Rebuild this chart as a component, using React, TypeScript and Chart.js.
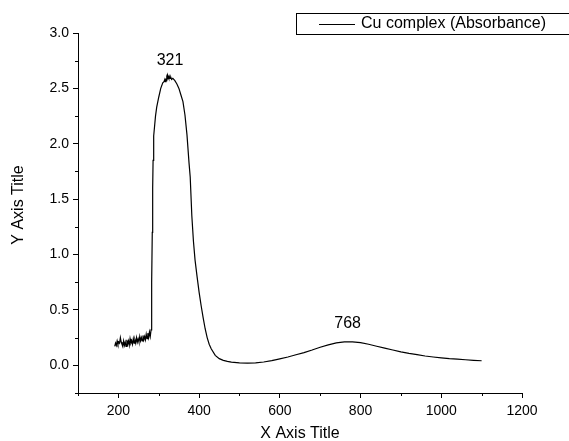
import React, { useEffect, useRef } from "react";
import { Chart, registerables } from "chart.js";

Chart.register(...registerables);

const wavelengths = [
  191, 193, 195, 197, 199, 201, 203, 205, 207, 209, 211, 213, 215, 217, 219, 221, 223, 225, 227, 229,
  231, 233, 235, 237, 239, 241, 243, 245, 247, 249, 251, 253, 255, 257, 259, 261, 263, 265, 267, 269,
  271, 273, 275, 277, 279, 281, 282, 283, 284, 285, 286, 287, 288, 290, 292, 295, 300, 305,
  310, 313, 315, 316, 318, 319, 320, 321, 322, 323, 325, 326, 328, 330, 332, 335, 340, 345, 350, 355, 360, 365, 370, 375, 378,
  382, 386, 390, 395, 400, 405, 410, 415, 420, 425, 430, 440, 450, 460, 470, 480, 500, 520, 540, 560,
  580, 600, 620, 640, 660, 680, 700, 720, 740, 760, 780, 800, 820, 840, 860, 880, 900, 920, 940, 960,
  980, 1000, 1020, 1040, 1060, 1080, 1100,
];

const absorbance = [
  0.17, 0.2, 0.18, 0.22, 0.19, 0.21, 0.2, 0.25, 0.21, 0.19, 0.17, 0.22, 0.18, 0.21, 0.17, 0.23, 0.19, 0.22, 0.18, 0.24,
  0.2, 0.22, 0.19, 0.24, 0.2, 0.23, 0.2, 0.25, 0.21, 0.24, 0.21, 0.26, 0.22, 0.25, 0.22, 0.27, 0.23, 0.26, 0.23, 0.28,
  0.24, 0.29, 0.25, 0.3, 0.26, 0.32, 0.32, 0.75, 1.2, 1.6, 1.85, 1.98, 2.07, 2.17, 2.25, 2.33, 2.42, 2.5,
  2.55, 2.56, 2.58, 2.56, 2.59, 2.57, 2.61, 2.62, 2.58, 2.61, 2.59, 2.61, 2.59, 2.6, 2.58, 2.59, 2.57, 2.54, 2.5, 2.44, 2.38, 2.26, 2.08, 1.83, 1.7,
  1.35, 1.12, 0.95, 0.8, 0.66, 0.54, 0.43, 0.33, 0.25, 0.19, 0.15, 0.09, 0.06, 0.045, 0.035, 0.028, 0.022, 0.02, 0.022, 0.03,
  0.042, 0.058, 0.075, 0.095, 0.115, 0.138, 0.163, 0.185, 0.203, 0.211, 0.212, 0.204, 0.19, 0.172, 0.155, 0.138, 0.122, 0.108, 0.096, 0.084,
  0.075, 0.067, 0.06, 0.055, 0.05, 0.045, 0.041,
];

const xMajorTicks = [200, 400, 600, 800, 1000, 1200];
const xMinorTicks = [100, 300, 500, 700, 900, 1100];
const yMajorTicks = [0, 0.5, 1.0, 1.5, 2.0, 2.5, 3.0];
const yMinorTicks = [-0.25, 0.25, 0.75, 1.25, 1.75, 2.25, 2.75];

const seriesLabel = "Cu complex (Absorbance)";
const xTitle = "X Axis Title";
const yTitle = "Y Axis Title";
const peakLabels = [
  { text: "321", x: 328, y: 2.75 },
  { text: "768", x: 768, y: 0.373 },
];

const FONT = "'Liberation Sans', Arial, sans-serif";

const decorPlugin = {
  id: "decor",
  afterDraw(chart: any) {
    const ctx = chart.ctx;
    const xs = chart.scales.x;
    const ys = chart.scales.y;
    const area = chart.chartArea;
    ctx.save();
    ctx.strokeStyle = "#000";
    ctx.lineWidth = 1;
    // minor ticks
    ctx.beginPath();
    xMinorTicks.forEach((v) => {
      const px = Math.round(xs.getPixelForValue(v)) + 0.5;
      ctx.moveTo(px, area.bottom);
      ctx.lineTo(px, area.bottom + 3);
    });
    yMinorTicks.forEach((v) => {
      const py = Math.round(ys.getPixelForValue(v)) + 0.5;
      ctx.moveTo(area.left, py);
      ctx.lineTo(area.left - 3, py);
    });
    ctx.stroke();

    ctx.fillStyle = "#000";
    ctx.font = `16px ${FONT}`;
    ctx.textAlign = "center";
    ctx.textBaseline = "middle";
    // peak labels
    peakLabels.forEach((p) => {
      ctx.fillText(p.text, xs.getPixelForValue(p.x), ys.getPixelForValue(p.y));
    });
    // axis titles
    ctx.fillText(xTitle, (area.left + area.right) / 2, 434);
    ctx.save();
    ctx.translate(19, 205);
    ctx.rotate(-Math.PI / 2);
    ctx.fillText(yTitle, 0, 0);
    ctx.restore();

    // legend box
    ctx.strokeRect(296.5, 13.5, 320, 21);
    ctx.beginPath();
    ctx.moveTo(319, 24.5);
    ctx.lineTo(355, 24.5);
    ctx.stroke();
    ctx.textAlign = "left";
    ctx.fillText(seriesLabel, 361, 24);
    ctx.restore();
  },
};

export default function App() {
  const ref = useRef<HTMLCanvasElement>(null);
  useEffect(() => {
    if (!ref.current) return;
    const data = wavelengths.map((x, i) => ({ x, y: absorbance[i] }));
    const chart = new Chart(ref.current, {
      type: "line",
      data: {
        datasets: [
          {
            label: seriesLabel,
            data,
            borderColor: "#000",
            borderWidth: 1.2,
            pointRadius: 0,
            tension: 0,
            fill: false,
          },
        ],
      },
      options: {
        animation: false,
        responsive: false,
        devicePixelRatio: 1,
        layout: { padding: { left: 0, right: 47, top: 33, bottom: 0 } },
        plugins: { legend: { display: false }, tooltip: { enabled: false } },
        scales: {
          x: {
            type: "linear",
            min: 100,
            max: 1200,
            afterBuildTicks: (s: any) => {
              s.ticks = xMajorTicks.map((v) => ({ value: v }));
            },
            afterFit: (s: any) => {
              s.height = 48;
            },
            grid: { display: true, drawOnChartArea: false, drawTicks: true, tickLength: 5, color: "#000" },
            border: { display: true, color: "#000", width: 1 },
            ticks: {
              color: "#000",
              font: { family: FONT, size: 14 },
              padding: 5,
              maxRotation: 0,
              autoSkip: false,
              callback: (v: any) => String(v),
            },
          },
          y: {
            type: "linear",
            min: -0.25,
            max: 3.0,
            afterBuildTicks: (s: any) => {
              s.ticks = yMajorTicks.map((v) => ({ value: v }));
            },
            afterFit: (s: any) => {
              s.width = 78;
            },
            grid: { display: true, drawOnChartArea: false, drawTicks: true, tickLength: 5, color: "#000" },
            border: { display: true, color: "#000", width: 1 },
            ticks: {
              color: "#000",
              font: { family: FONT, size: 14 },
              padding: 4,
              autoSkip: false,
              callback: (v: any) => Number(v).toFixed(1),
            },
          },
        },
      },
      plugins: [decorPlugin],
    });
    return () => chart.destroy();
  }, []);
  return (
    <div style={{ position: "fixed", left: 0, top: 0, width: 569, height: 441, background: "#fff" }}>
      <canvas ref={ref} width={569} height={441} />
    </div>
  );
}
